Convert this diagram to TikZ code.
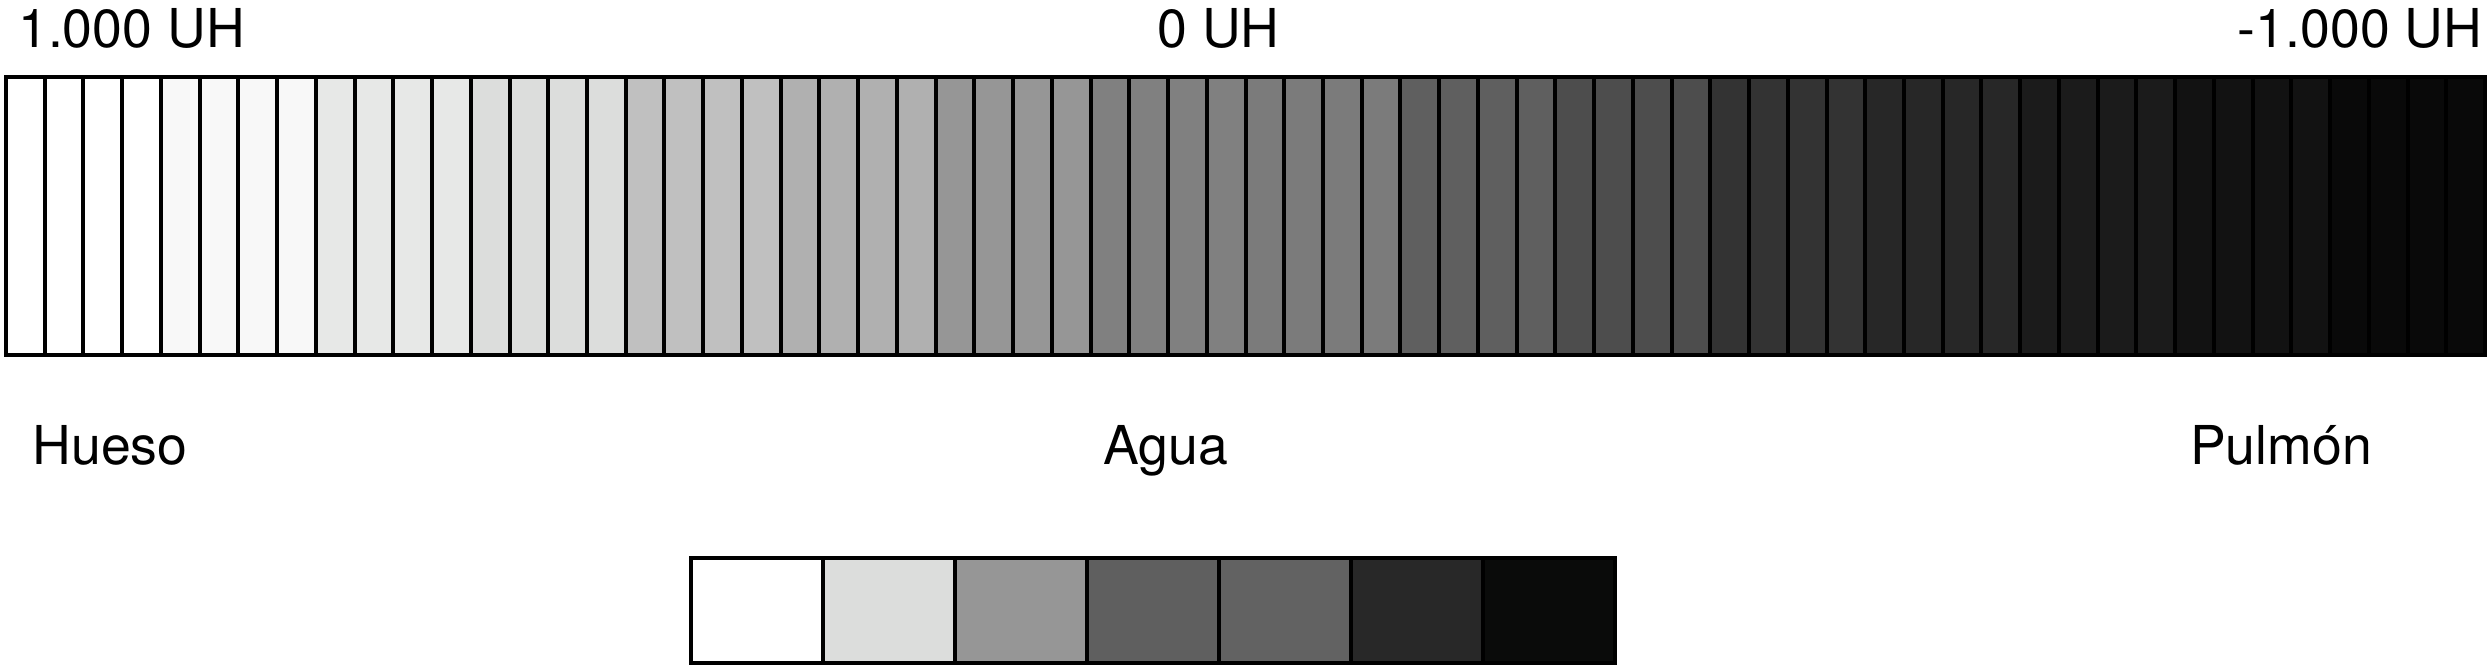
\documentclass[tikz,border=0pt]{standalone}
\usepackage{fontspec}
\setmainfont{TeX Gyre Heros}
\definecolor{g1}{HTML}{FFFFFF}
\definecolor{g2}{HTML}{F8F8F8}
\definecolor{g3}{HTML}{E7E8E7}
\definecolor{g4}{HTML}{DCDDDC}
\definecolor{g5}{HTML}{C0C0C0}
\definecolor{g6}{HTML}{B0B0B0}
\definecolor{g7}{HTML}{969696}
\definecolor{g8}{HTML}{808080}
\definecolor{g9}{HTML}{7B7B7B}
\definecolor{g10}{HTML}{5F5F5F}
\definecolor{g11}{HTML}{4D4D4D}
\definecolor{g12}{HTML}{333333}
\definecolor{g13}{HTML}{272727}
\definecolor{g14}{HTML}{1B1B1B}
\definecolor{g15}{HTML}{121212}
\definecolor{g16}{HTML}{090909}
\definecolor{b1}{HTML}{FFFFFF}
\definecolor{b2}{HTML}{DCDDDC}
\definecolor{b3}{HTML}{969696}
\definecolor{b4}{HTML}{5F5F5F}
\definecolor{b5}{HTML}{626262}
\definecolor{b6}{HTML}{282828}
\definecolor{b7}{HTML}{0A0B0A}
\begin{document}
\begin{tikzpicture}[x=0.5pt,y=-0.5pt,
  lab/.style={font=\fontsize{26.8}{32}\selectfont, inner sep=0pt, anchor=base},
  barline/.style={line width=2pt, draw=black},
  cellline/.style={line width=1.8pt, draw=black}]
\useasboundingbox (0,0) rectangle (2490,668);
% main stripe bar
\foreach \i in {0,...,63}{
  \pgfmathtruncatemacro{\g}{int(\i/4)+1}
  \fill[g\g] ({6+\i*38.734},77) rectangle ({6+(\i+1)*38.734},355);
}
\foreach \i in {1,...,63}{
  \draw[barline] ({6+\i*38.734},77) -- ({6+\i*38.734},355);
}
\draw[barline] (6,77) rectangle (2485,355);
% labels
\node[lab] (uhpos) at (131.5,48) {1.000 UH};
\node[lab] (uhzero) at (1218.5,48) {0 UH};
\node[lab] (uhneg) at (2360,48) {-1.000 UH};
\node[lab] (hueso) at (110,464) {Hueso};
\node[lab] (agua) at (1166,464) {Agua};
\node[lab] (pulmon) at (2281,464) {Pulmón};
% bottom swatches
\foreach \c [count=\k from 0] in {b1,b2,b3,b4,b5,b6,b7}{
  \fill[\c] ({691+132*\k},558) rectangle ({691+132*(\k+1)},663);
}
\foreach \k in {1,...,6}{
  \draw[cellline] ({691+132*\k},558) -- ({691+132*\k},663);
}
\draw[cellline] (691,558) rectangle (1615,663);
\end{tikzpicture}
\end{document}
